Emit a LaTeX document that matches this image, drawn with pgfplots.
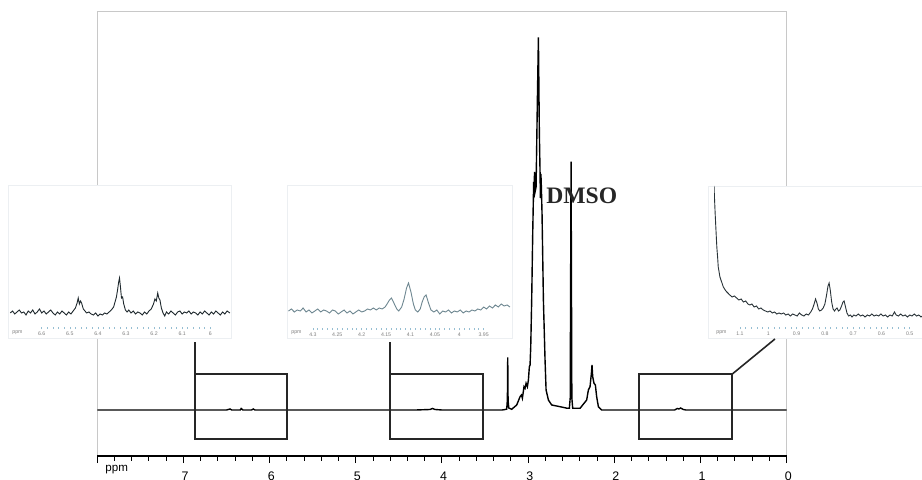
\documentclass[border=0pt]{standalone}
\usepackage{pgfplots}
\pgfplotsset{compat=1.18}
\usepackage{fontspec}
\setmainfont{Liberation Sans}
\newfontfamily\serifb{Liberation Serif}
\definecolor{framegray}{RGB}{200,200,200}
\definecolor{insetframe}{RGB}{236,239,242}
\definecolor{insetaxis}{RGB}{150,190,210}
\definecolor{specA}{RGB}{30,40,45}
\definecolor{specB}{RGB}{110,135,145}
\definecolor{specC}{RGB}{40,50,55}
\pgfplotsset{
  insetstyle/.style={
    scale only axis, x dir=reverse, ymin=0,
    ytick=\empty, axis line style={draw=none},
    xtick pos=left, minor x tick num=4, tick align=center,
    major tick length=1.4pt, minor tick length=1pt,
    tick style={insetaxis, line width=0.3pt},
    xticklabel style={font=\fontsize{2.6}{3}\selectfont, text=gray, inner sep=0.5pt, yshift=-0.6pt},
    clip=true,
  }
}
\begin{document}
\begin{tikzpicture}
\useasboundingbox (0,0) rectangle (461pt,240pt);
% ---------- main spectrum ----------
\begin{axis}[
  at={(48.65pt,12pt)}, anchor=south west, scale only axis,
  width=344.7pt, height=222pt,
  xmin=0, xmax=8, x dir=reverse, ymin=-46, ymax=398,
  ytick=\empty, xtick={0,1,2,3,4,5,6,7,8},
  xticklabels={0,1,2,3,4,5,6,7,{}},
  minor x tick num=4, xtick pos=left, tick align=outside,
  major tick length=3.6pt, minor tick length=2.4pt,
  tick style={black, line width=0.5pt},
  axis line style={framegray, line width=0.5pt},
  xticklabel style={font=\fontsize{6.2}{7}\selectfont, anchor=north, inner sep=0pt, yshift=-4pt, xshift=0.8pt},
  clip=false,
]
\addplot[black, line width=0.7pt] coordinates {
(8.0,0) (6.50,0) (6.46,1) (6.44,0) (6.34,0) (6.33,1.5) (6.31,0) (6.21,0) (6.19,1) (6.17,0)
(4.30,0) (4.14,0.5) (4.11,1.5) (4.08,0.5) (4.00,0) (3.30,0)
(3.249,0.8) (3.241,10) (3.237,52.7) (3.233,10) (3.225,2) (3.191,0.7)
(3.133,5) (3.094,13.3) (3.078,15) (3.067,11.7) (3.048,23.3) (3.036,21.7) (3.024,26.7)
(3.009,23.3) (2.997,30) (2.986,43.3) (2.978,45) (2.970,63.3) (2.959,110) (2.947,176.7)
(2.936,228) (2.932,214) (2.926,238) (2.920,218) (2.908,223) (2.893,310) (2.881,372.7)
(2.870,276.7) (2.862,238) (2.858,212) (2.852,236) (2.847,224) (2.839,196.7) (2.823,110)
(2.804,50) (2.792,20) (2.765,10) (2.727,5) (2.630,3.3) (2.545,1.7) (2.522,1.7)
(2.512,12) (2.502,248.3) (2.493,12) (2.483,1.7) (2.398,1.7) (2.321,10) (2.301,20)
(2.282,23.3) (2.266,36.7) (2.259,45) (2.251,33.3) (2.236,26.7) (2.220,25) (2.205,13.3)
(2.185,3.3) (2.147,0) (1.30,0) (1.27,1.5) (1.25,1) (1.23,2) (1.20,0.5) (1.17,0) (0,0)
};
\draw[black, line width=0.6pt] (rel axis cs:0,0) -- (rel axis cs:1,0);
\coordinate (b1a) at (axis cs:6.864,35.7);
\coordinate (b1b) at (axis cs:5.794,-29);
\coordinate (b2a) at (axis cs:4.602,35.7);
\coordinate (b2b) at (axis cs:3.523,-29);
\coordinate (b3a) at (axis cs:1.713,35.7);
\coordinate (b3b) at (axis cs:0.635,-29);
\coordinate (c1) at (axis cs:6.864,68);
\coordinate (c2) at (axis cs:4.602,68);
\coordinate (c3a) at (axis cs:0.635,35.7);
\coordinate (c3b) at (axis cs:0.136,71);
\end{axis}
\node[anchor=base west, inner sep=0pt, font=\fontsize{5.8}{6}\selectfont] at (52.5pt,4pt) {ppm};
% ---------- inset 1 ----------
\draw[insetframe, fill=white, line width=0.4pt] (4.15pt,71pt) rectangle (115.5pt,147.5pt);
\begin{axis}[insetstyle, at={(5pt,76pt)}, anchor=south west,
  width=110.5pt, height=71pt, xmin=5.926, xmax=6.713, ymax=142,
  xtick={6.6,6.5,6.4,6.3,6.2,6.1,6.0}, xticklabels={6.6,6.5,6.4,6.3,6.2,6.1,6}]
\draw[insetaxis, line width=0.4pt] (rel axis cs:0,0) -- (rel axis cs:1,0);
\addplot[specA, line width=0.45pt] coordinates {
(6.712,15) (6.704,17) (6.696,14) (6.688,16) (6.680,18) (6.672,15) (6.664,16) (6.656,13)
(6.648,17) (6.640,15) (6.632,18) (6.624,14) (6.616,16) (6.608,19) (6.600,15) (6.592,17)
(6.584,14) (6.576,16) (6.568,18) (6.560,15) (6.552,13) (6.544,16) (6.536,14) (6.528,17)
(6.520,15) (6.512,13) (6.504,16) (6.496,14) (6.488,17) (6.480,20) (6.474,25) (6.470,30)
(6.466,24) (6.462,27) (6.458,25) (6.452,19) (6.446,17) (6.440,15) (6.432,16) (6.424,14)
(6.416,13) (6.408,15) (6.400,12) (6.392,14) (6.384,13) (6.376,15) (6.368,14) (6.360,16)
(6.352,18) (6.344,21) (6.338,27) (6.334,31) (6.330,38) (6.326,46) (6.323,50) (6.320,42)
(6.316,30) (6.312,31) (6.308,24) (6.302,18) (6.296,16) (6.290,18) (6.282,15) (6.274,17)
(6.266,14) (6.258,16) (6.250,15) (6.242,13) (6.234,16) (6.226,14) (6.218,17) (6.210,19)
(6.202,24) (6.197,29) (6.192,27) (6.187,35) (6.183,30) (6.179,28) (6.174,20) (6.168,15)
(6.162,12) (6.156,16) (6.148,14) (6.140,17) (6.132,15) (6.124,13) (6.116,16) (6.108,17)
(6.100,14) (6.092,16) (6.084,15) (6.076,17) (6.068,14) (6.060,16) (6.052,15) (6.044,13)
(6.036,16) (6.028,14) (6.020,17) (6.012,15) (6.004,13) (5.996,16) (5.988,14) (5.980,17)
(5.972,15) (5.964,13) (5.956,16) (5.948,14) (5.940,17) (5.930,15)
};
\end{axis}
\node[anchor=west, inner sep=0pt, font=\fontsize{2.6}{3}\selectfont, text=gray] at (6pt,73.5pt) {ppm};
% ---------- inset 2 ----------
\draw[insetframe, fill=white, line width=0.4pt] (143.5pt,71pt) rectangle (256pt,147.5pt);
\begin{axis}[insetstyle, at={(144pt,75.5pt)}, anchor=south west,
  width=111pt, height=71.5pt, xmin=3.896, xmax=4.351, ymax=143,
  xtick={4.3,4.25,4.2,4.15,4.1,4.05,4.0,3.95}, xticklabels={4.3,4.25,4.2,4.15,4.1,4.05,4,3.95}]
\draw[insetaxis, line width=0.4pt] (rel axis cs:0,0) -- (rel axis cs:1,0);
\addplot[specB, line width=0.45pt] coordinates {
(4.350,18) (4.344,20) (4.338,17) (4.332,19) (4.326,18) (4.320,21) (4.314,17) (4.308,19)
(4.302,16) (4.296,18) (4.290,20) (4.284,17) (4.278,19) (4.272,18) (4.266,16) (4.260,19)
(4.254,18) (4.248,15) (4.242,17) (4.236,19) (4.230,16) (4.224,18) (4.218,15) (4.212,17)
(4.206,19) (4.200,17) (4.194,18) (4.188,20) (4.182,19) (4.176,21) (4.170,19) (4.164,21)
(4.158,20) (4.152,22) (4.148,25) (4.143,29) (4.139,31) (4.134,26) (4.128,20) (4.124,18)
(4.118,22) (4.113,30) (4.108,41) (4.104,46) (4.099,37) (4.094,25) (4.090,19) (4.085,17)
(4.080,20) (4.076,27) (4.072,32) (4.068,34) (4.063,26) (4.058,19) (4.052,17) (4.046,19)
(4.040,15) (4.034,18) (4.028,17) (4.022,19) (4.016,16) (4.010,18) (4.004,17) (3.998,19)
(3.992,16) (3.986,18) (3.980,17) (3.974,19) (3.968,18) (3.962,20) (3.956,19) (3.950,22)
(3.944,20) (3.938,23) (3.932,21) (3.926,24) (3.920,22) (3.914,25) (3.908,23) (3.902,24)
(3.896,22)
};
\end{axis}
\node[anchor=west, inner sep=0pt, font=\fontsize{2.6}{3}\selectfont, text=gray] at (145.5pt,73.5pt) {ppm};
% ---------- inset 3 ----------
\draw[insetframe, fill=white, line width=0.4pt] (354pt,71pt) rectangle (475pt,147pt);
\begin{axis}[insetstyle, at={(357pt,76pt)}, anchor=south west,
  width=113pt, height=71pt, xmin=0.393, xmax=1.192, ymax=142,
  xtick={1.1,1.0,0.9,0.8,0.7,0.6,0.5}, xticklabels={1.1,1,0.9,0.8,0.7,0.6,0.5}]
\draw[insetaxis, line width=0.4pt] (rel axis cs:0,0) -- (rel axis cs:1,0);
\addplot[specC, line width=0.45pt] coordinates {
(1.192,142) (1.188,115) (1.184,92) (1.182,81) (1.179,70) (1.177,61) (1.174,56) (1.171,51)
(1.165,46) (1.159,41) (1.150,37) (1.143,35) (1.136,33) (1.128,31) (1.120,32) (1.112,30)
(1.104,28) (1.096,29) (1.088,26) (1.080,27) (1.072,24) (1.065,23) (1.058,24) (1.050,21)
(1.042,22) (1.034,19) (1.026,20) (1.018,18) (1.010,17) (1.002,16) (0.994,17) (0.986,15)
(0.978,16) (0.970,14) (0.962,15) (0.954,14) (0.946,15) (0.938,13) (0.930,14) (0.922,12)
(0.914,14) (0.906,13) (0.898,12) (0.890,15) (0.882,13) (0.874,12) (0.866,14) (0.858,13)
(0.850,16) (0.844,19) (0.838,24) (0.833,29) (0.828,25) (0.823,19) (0.818,17) (0.812,18)
(0.806,20) (0.800,24) (0.794,33) (0.789,42) (0.785,45) (0.781,38) (0.776,26) (0.771,19)
(0.766,17) (0.761,19) (0.757,20) (0.752,17) (0.747,18) (0.741,22) (0.736,26) (0.732,27)
(0.727,21) (0.722,15) (0.716,12) (0.710,13) (0.704,11) (0.698,13) (0.690,12) (0.682,14)
(0.674,12) (0.666,13) (0.658,11) (0.650,13) (0.642,12) (0.634,14) (0.626,12) (0.618,13)
(0.610,12) (0.602,14) (0.594,12) (0.586,13) (0.578,11) (0.570,13) (0.562,12) (0.554,16)
(0.548,13) (0.540,12) (0.532,14) (0.524,12) (0.516,13) (0.508,11) (0.500,13) (0.492,12)
(0.484,14) (0.476,12) (0.468,13) (0.460,11) (0.452,13) (0.444,12) (0.436,14) (0.428,12)
(0.420,13) (0.412,11) (0.404,13)
};
\end{axis}
\node[anchor=west, inner sep=0pt, font=\fontsize{2.6}{3}\selectfont, text=gray] at (358pt,73.5pt) {ppm};
% ---------- boxes and connectors ----------
\draw[black!85, line width=1pt] (b1a) rectangle (b1b);
\draw[black!85, line width=1pt] (b2a) rectangle (b2b);
\draw[black!85, line width=1pt] (b3a) rectangle (b3b);
\draw[black!85, line width=0.8pt] (b1a) -- (c1);
\draw[black!85, line width=0.8pt] (b2a) -- (c2);
\draw[black!85, line width=0.8pt] (c3a) -- (c3b);
\node[anchor=base west, inner sep=0pt, font=\serifb\bfseries\fontsize{11.8}{12}\selectfont, text=black!85] at (273pt,138pt) {DMSO};
\end{tikzpicture}
\end{document}
